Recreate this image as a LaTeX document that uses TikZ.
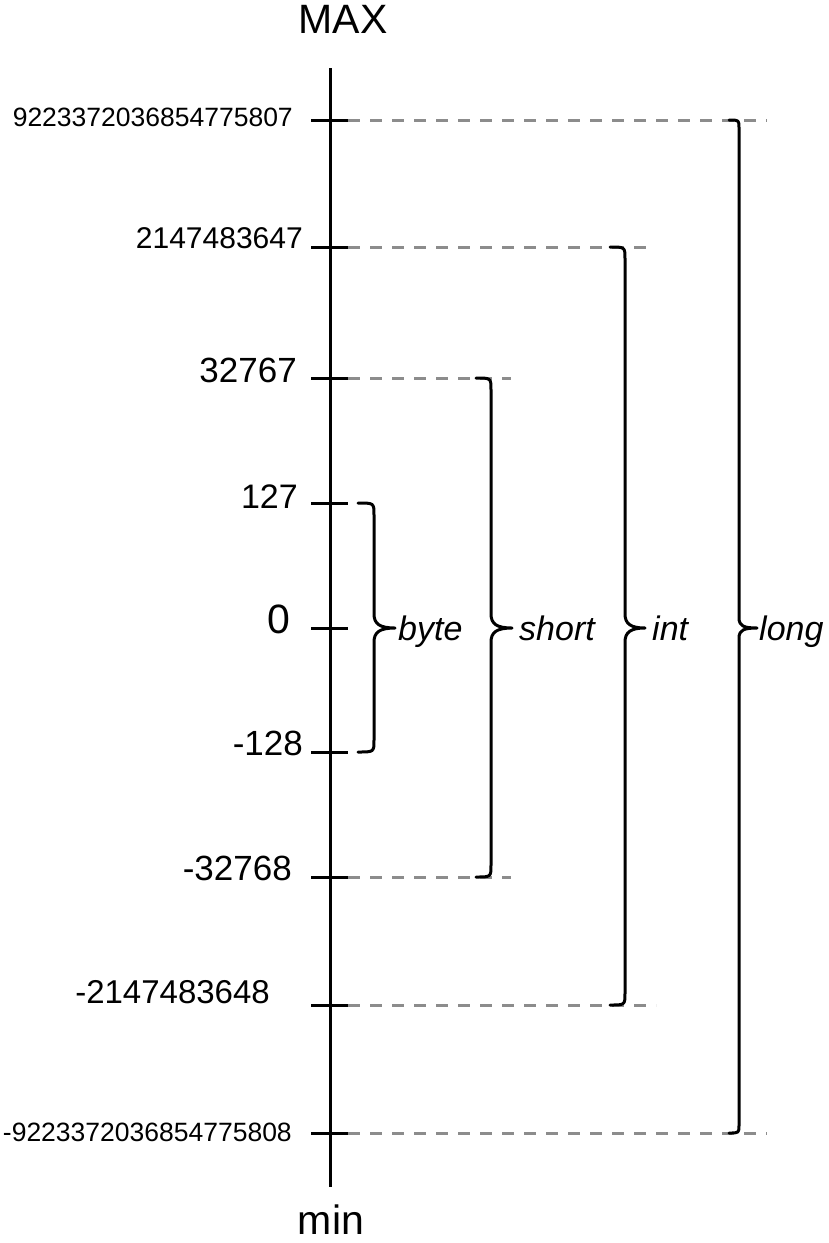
\documentclass[tikz,border=0pt]{standalone}
\usepackage{fontspec}
\setmainfont{Liberation Sans}
\definecolor{guidegray}{RGB}{140,140,140}
\begin{document}
\begin{tikzpicture}[x=1pt,y=-1pt,
  axisline/.style={line width=3pt},
  tickmark/.style={line width=3pt},
  guide/.style={guidegray,line width=3pt,dash pattern=on 12pt off 10pt},
  rangebrace/.style={line width=3pt,line join=round,line cap=round},
  lbl/.style={anchor=base east,inner sep=0pt},
  typelbl/.style={anchor=base west,inner sep=0pt,font=\fontsize{34}{40}\selectfont\itshape},
  endlbl/.style={inner sep=0pt,font=\fontsize{41}{46}\selectfont}]
\useasboundingbox (0,0) rectangle (828,1243);
% axis
\node[endlbl,anchor=base] (max) at (343,33) {MAX};
\node[endlbl,anchor=base] (min) at (331,1234) {min};
\coordinate (atop) at (330,68);
\coordinate (abot) at (330,1187);
\draw[axisline] (atop) -- (abot);
% tick coordinates
\foreach \n/\y in {1/120,2/247,3/378,4/503,5/628,6/752,7/877,8/1005,9/1133}{
  \coordinate (tl\n) at (311,\y);
  \coordinate (tr\n) at (348,\y);
  \draw[tickmark] (tl\n) -- (tr\n);
}
% dashed guides
\coordinate (d1) at (767,120);
\coordinate (d2) at (653,247);
\coordinate (d3) at (511,378);
\coordinate (d7) at (511,877);
\coordinate (d8) at (656,1005);
\coordinate (d9) at (767,1133);
\draw[guide] (tr1) -- (d1);
\draw[guide] (tr2) -- (d2);
\draw[guide] (tr3) -- (d3);
\draw[guide] (tr7) -- (d7);
\draw[guide] (tr8) -- (d8);
\draw[guide] (tr9) -- (d9);
% value labels
\node[lbl,font=\fontsize{26.5}{30}\selectfont] (v1) at (293,126) {9223372036854775807};
\node[lbl,font=\fontsize{30}{34}\selectfont] (v2) at (303,248) {2147483647};
\node[lbl,font=\fontsize{35}{40}\selectfont] (v3) at (297,382) {32767};
\node[lbl,font=\fontsize{34}{40}\selectfont] (v4) at (298,508) {127};
\node[lbl,font=\fontsize{41}{46}\selectfont] (v5) at (290,633) {0};
\node[lbl,font=\fontsize{35}{40}\selectfont] (v6) at (303,755) {-128};
\node[lbl,font=\fontsize{35}{40}\selectfont] (v7) at (292,880) {-32768};
\node[lbl,font=\fontsize{33}{38}\selectfont] (v8) at (270,1003) {-2147483648};
\node[lbl,font=\fontsize{26.5}{30}\selectfont] (v9) at (292,1141) {-9223372036854775808};
% braces
% byte
\draw[rangebrace] (358,503) .. controls (374,503) .. (374,515) -- (374,614)
  .. controls (374,624) and (380,628) .. (395,628)
  .. controls (380,628) and (374,632) .. (374,642) -- (374,740)
  .. controls (374,752) .. (358,752);
% short
\draw[rangebrace] (476,378) .. controls (491,378) .. (491,390) -- (491,614)
  .. controls (491,624) and (497,628) .. (512,628)
  .. controls (497,628) and (491,632) .. (491,642) -- (491,865)
  .. controls (491,877) .. (476,877);
% int
\draw[rangebrace] (610,247) .. controls (625,247) .. (625,259) -- (625,614)
  .. controls (625,624) and (631,628) .. (645,628)
  .. controls (631,628) and (625,632) .. (625,642) -- (625,993)
  .. controls (625,1005) .. (610,1005);
% long
\draw[rangebrace] (729,120) .. controls (739,120) .. (739,128) -- (739,618)
  .. controls (739,626) and (744,628) .. (757,628)
  .. controls (744,628) and (739,630) .. (739,638) -- (739,1125)
  .. controls (739,1133) .. (729,1133);
% type labels
\node[typelbl] (byte) at (398,640) {byte};
\node[typelbl] (short) at (519,640) {short};
\node[typelbl] (int) at (652,640) {int};
\node[typelbl] (long) at (759,640) {long};
\end{tikzpicture}
\end{document}
